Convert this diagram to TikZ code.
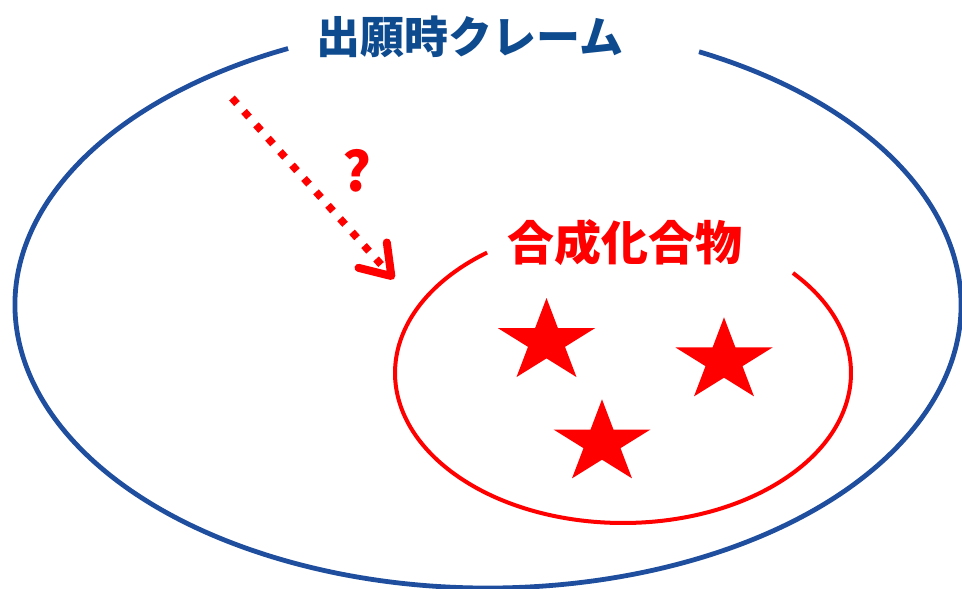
\documentclass[tikz,border=0pt]{standalone}
\usepackage{fontspec}
\newfontfamily\jpfont{Noto Sans CJK JP}
\usetikzlibrary{arrows.meta}
\definecolor{claimblue}{HTML}{1F4E9E}
\definecolor{claimtext}{HTML}{0E4A8E}
\definecolor{cpdred}{HTML}{FF0000}
\tikzset{
  bigset/.style={draw=claimblue, line width=4.8pt},
  subset/.style={draw=cpdred, line width=4pt},
  starred/.style={fill=cpdred, draw=none},
  lbl/.style={inner sep=0pt, font=\jpfont\bfseries},
  dotarrow/.style={draw=cpdred, line width=7.5pt, dash pattern=on 7.5pt off 10.5pt,
    -{Straight Barb[length=28pt, width=38pt, line width=8pt, round]}},
}
\newcommand\mystar[2]{%
  \fill[starred, shift={(#1,#2)}, xscale=51, yscale=-43.7]
    (0,1) -- (0.2245,0.309) -- (0.951,0.309) -- (0.363,-0.118) -- (0.588,-0.809)
    -- (0,-0.382) -- (-0.588,-0.809) -- (-0.363,-0.118) -- (-0.951,0.309)
    -- (-0.2245,0.309) -- cycle;}
\begin{document}
\begin{tikzpicture}[x=1pt, y=-1pt]
\useasboundingbox (0,0) rectangle (962,589);
% big ellipse (claims)
\draw[bigset] (488,305) ++(296.5:473 and 283) arc[start angle=296.5, end angle=605, x radius=473, y radius=283];
\node[lbl, text=claimtext, font=\jpfont\bfseries\fontsize{44}{50}\selectfont] (claim) at (470,37) {出願時クレーム};
% small ellipse (compounds)
\draw[subset] (623,373) ++(318.2:228 and 150) arc[start angle=318.2, end angle=593.4, x radius=228, y radius=150];
\node[lbl, text=cpdred, font=\jpfont\bfseries\fontsize{47}{52}\selectfont] (cpd) at (625,243) {合成化合物};
% stars
\mystar{546.5}{341.7}
\mystar{724}{361}
\mystar{602}{443}
% dotted arrow
\coordinate (from) at (232,98);
\coordinate (to) at (394,279);
\draw[dotarrow] (from) -- (to);
\node[lbl, text=cpdred, font=\jpfont\bfseries\fontsize{54}{60}\selectfont] (q) at (357,171) {?};
\end{tikzpicture}
\end{document}
